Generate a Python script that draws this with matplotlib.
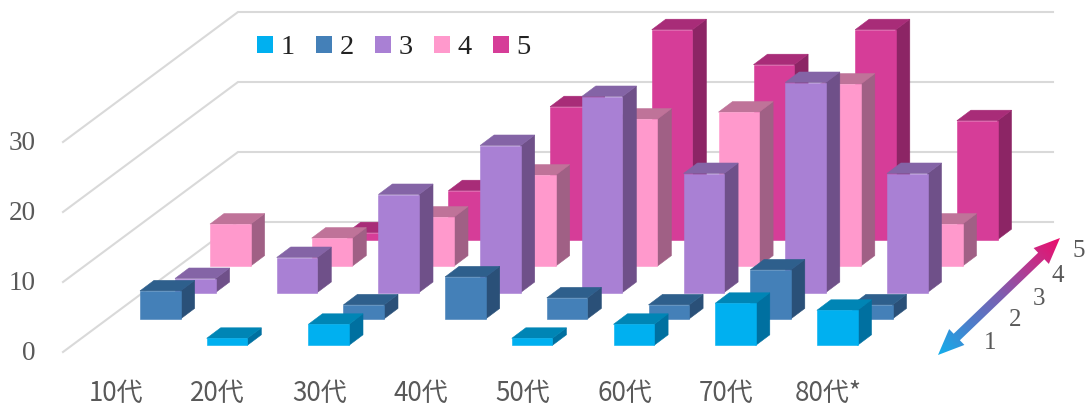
import numpy as np
import matplotlib
matplotlib.use('Agg')
import matplotlib.pyplot as plt
from matplotlib.patches import Patch, Polygon
from matplotlib.colors import LinearSegmentedColormap

# Data
categories = ['10代', '20代', '30代', '40代', '50代', '60代', '70代', '80代*']
series_names = ['1', '2', '3', '4', '5']
series_1 = [0, 1, 3, 0, 1, 3, 6, 5]
series_2 = [4, 0, 2, 6, 3, 2, 7, 2]
series_3 = [2, 5, 14, 21, 28, 17, 30, 17]
series_4 = [6, 4, 7, 13, 21, 22, 26, 6]
series_5 = [0, 1, 7, 19, 30, 25, 30, 17]
value_ticks = [0, 10, 20, 30]

# front, top, side colours per series
colors = [('#00B0F0', '#0085B5', '#0070A0'),
          ('#4480B8', '#2E5F8C', '#2A5078'),
          ('#A980D4', '#8464A6', '#6F5089'),
          ('#FF99CC', '#BF7399', '#A06085'),
          ('#D63D98', '#A82C78', '#8C2565')]

# Scale of the axes: one category and one value unit in pixels
px_cat = 101.7
px_val = 7.0
x0_px = 105.0
y0_px = 345.3

# Oblique projection, in data units
step_x = 35 / px_cat
step_y = 26.4 / px_val
bar_w = 40.6 / px_cat
top_x = 14 / px_cat
top_y = 10.5 / px_val


def px(x, y):
    # pixel position in the picture to data position
    return (x - x0_px) / px_cat, (y0_px - y) / px_val


def draw_bar(ax, k, s, value, cols):
    x = k + s * step_x
    base = s * step_y
    h = value
    front = [(x, base), (x + bar_w, base), (x + bar_w, base + h), (x, base + h)]
    top = [(x, base + h), (x + bar_w, base + h),
           (x + bar_w + top_x, base + h + top_y), (x + top_x, base + h + top_y)]
    side = [(x + bar_w, base), (x + bar_w + top_x, base + top_y),
            (x + bar_w + top_x, base + h + top_y), (x + bar_w, base + h)]
    for pts, c in zip((side, top, front), (cols[2], cols[1], cols[0])):
        ax.add_patch(Polygon(pts, closed=True, facecolor=c, edgecolor=c, linewidth=0.4, zorder=3 + 5 - s))


fig = plt.figure(figsize=(10.89, 4.07), dpi=100)
ax = fig.add_axes([0, 0, 1, 1])
ax.set_xlim(px(0, 0)[0], px(1089, 0)[0])
ax.set_ylim(px(0, 407)[1], px(0, 0)[1])
ax.set_axis_off()

# Gridlines: floor diagonal then the back wall
for v in value_ticks:
    xa, ya = px(63, 352)
    xb, yb = px(238, 222)
    xc, _ = px(1053, 222)
    ax.plot([xa, xb, xc], [ya + v, yb + v, yb + v], color='#D9D9D9', lw=1.5, zorder=1,
            solid_joinstyle='miter')
    lx, ly = px(36, 354)
    ax.text(lx, ly + v, str(v), ha='right', va='center', fontsize=19.5,
            family='Liberation Serif', color='#595959')

# Bars, back series first
all_series = [series_1, series_2, series_3, series_4, series_5]
for s in range(4, -1, -1):
    for k, value in enumerate(all_series[s]):
        if value > 0:
            draw_bar(ax, k, s, value, colors[s])

# Category labels
for k, name in enumerate(categories):
    ax.text(k + px(116, 0)[0], px(0, 393)[1], name, ha='center', va='center', fontsize=18.7,
            family=['Noto Sans CJK JP', 'DejaVu Sans'], color='#595959')

# Series depth labels
for name, (lx, ly) in zip(series_names, [(990, 343), (1015, 320), (1039, 299), (1058, 276), (1079, 251)]):
    x, y = px(lx, ly)
    ax.text(x, y, name, ha='center', va='center', fontsize=18,
            family='Liberation Serif', color='#595959')

# Double arrow with a gradient
tip_a = np.array([938.0, 355.0])
tip_b = np.array([1060.0, 238.0])
d = (tip_b - tip_a) / np.linalg.norm(tip_b - tip_a)
n = np.array([-d[1], d[0]])
head = 26
hw = 11
sw = 4.5
arrow_px = [tip_a, tip_a + d * head + n * hw, tip_a + d * head + n * sw,
            tip_b - d * head + n * sw, tip_b - d * head + n * hw, tip_b,
            tip_b - d * head - n * hw, tip_b - d * head - n * sw,
            tip_a + d * head - n * sw, tip_a + d * head - n * hw]
arrow = Polygon([px(*p) for p in arrow_px], closed=True, facecolor='none', edgecolor='none', zorder=2)
ax.add_patch(arrow)
cmap = LinearSegmentedColormap.from_list('arrow', ['#12AEEC', '#4A80CC', '#7A60B2', '#B8388F', '#EC0C6C'])
xx, yy = np.meshgrid(np.linspace(925, 1075, 200), np.linspace(225, 370, 200))
grad = ((xx - tip_a[0]) * d[0] + (yy - tip_a[1]) * d[1]) / np.linalg.norm(tip_b - tip_a)
xl, yt = px(925, 225)
xr, yb = px(1075, 370)
im = ax.imshow(grad, cmap=cmap, vmin=0, vmax=1, extent=(xl, xr, yb, yt), origin='upper',
               aspect='auto', zorder=2)
im.set_clip_path(arrow)
ax.set_xlim(px(0, 0)[0], px(1089, 0)[0])
ax.set_ylim(px(0, 407)[1], px(0, 0)[1])

# Legend
handles = [Patch(facecolor=c[0], edgecolor='none', label=n) for c, n in zip(colors, series_names)]
ax.legend(handles=handles, ncol=5, frameon=False, loc='center left',
          bbox_to_anchor=(257 / 1089, 1 - 48 / 407),
          prop={'family': 'Liberation Serif', 'size': 20.5}, labelcolor='#222222',
          handlelength=0.56, handleheight=0.56, handletextpad=0.28, columnspacing=0.73,
          borderpad=0, borderaxespad=0)

fig.savefig('out.png', dpi=100)
